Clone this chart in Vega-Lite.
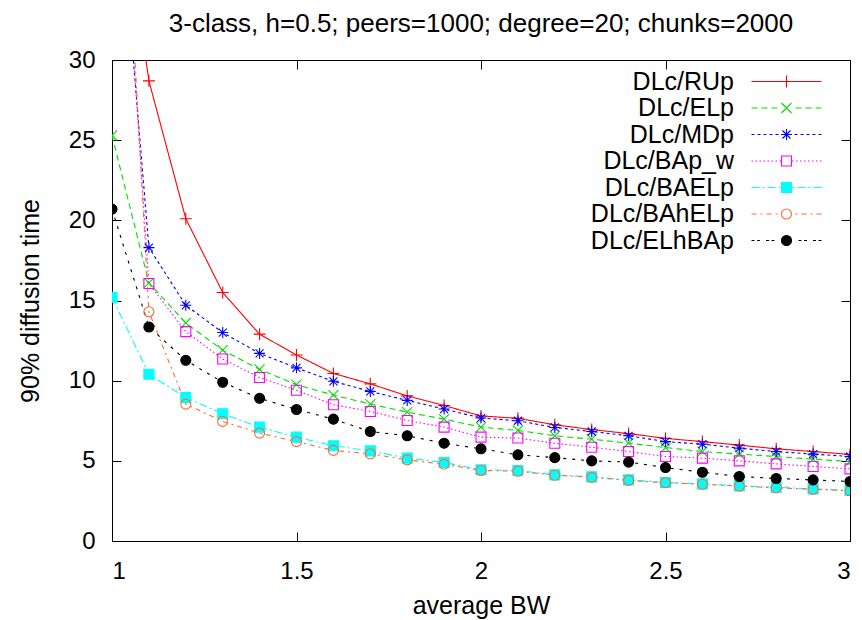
{
  "$schema": "https://vega.github.io/schema/vega-lite/v6.json",
  "width": 738,
  "height": 481,
  "autosize": {"type": "none"},
  "padding": {"left": 112, "top": 60, "right": 12, "bottom": 79},
  "title": {"text": "3-class, h=0.5; peers=1000; degree=20; chunks=2000", "fontSize": 26, "fontWeight": "normal", "font": "Liberation Sans", "color": "black", "offset": 11, "anchor": "middle"},
  "config": {
    "view": {"stroke": "black", "strokeWidth": 1},
    "font": "Liberation Sans",
    "axis": {"domain": false, "grid": false, "labelFont": "Liberation Sans", "labelFontSize": 24, "labelColor": "black", "tickColor": "black", "tickWidth": 1, "titleFont": "Liberation Sans", "titleFontSize": 25, "titleFontWeight": "normal", "titleColor": "black"},
    "legend": {"title": null, "orient": "none", "legendX": 662, "legendY": 9, "padding": 0, "rowPadding": 0.5, "labelFontSize": 25, "labelFont": "Liberation Sans", "labelColor": "black", "labelAlign": "right", "labelBaseline": "middle", "labelOffset": -65, "labelLimit": 400, "symbolSize": 100, "symbolStrokeWidth": 1.1, "symbolOpacity": 1}
  },
  "data": {"values": [
    {"bw":1.0,"series":"DLc/RUp","t":45},{"bw":1.1,"series":"DLc/RUp","t":28.7},{"bw":1.2,"series":"DLc/RUp","t":20.1},{"bw":1.3,"series":"DLc/RUp","t":15.5},{"bw":1.4,"series":"DLc/RUp","t":12.9},{"bw":1.5,"series":"DLc/RUp","t":11.6},{"bw":1.6,"series":"DLc/RUp","t":10.45},{"bw":1.7,"series":"DLc/RUp","t":9.8},{"bw":1.8,"series":"DLc/RUp","t":9.05},{"bw":1.9,"series":"DLc/RUp","t":8.45},{"bw":2.0,"series":"DLc/RUp","t":7.8},{"bw":2.1,"series":"DLc/RUp","t":7.65},{"bw":2.2,"series":"DLc/RUp","t":7.25},{"bw":2.3,"series":"DLc/RUp","t":6.95},{"bw":2.4,"series":"DLc/RUp","t":6.7},{"bw":2.5,"series":"DLc/RUp","t":6.4},{"bw":2.6,"series":"DLc/RUp","t":6.2},{"bw":2.7,"series":"DLc/RUp","t":5.98},{"bw":2.8,"series":"DLc/RUp","t":5.75},{"bw":2.9,"series":"DLc/RUp","t":5.58},{"bw":3.0,"series":"DLc/RUp","t":5.4},
    {"bw":1.0,"series":"DLc/ELp","t":25.3},{"bw":1.1,"series":"DLc/ELp","t":16.1},{"bw":1.2,"series":"DLc/ELp","t":13.6},{"bw":1.3,"series":"DLc/ELp","t":11.9},{"bw":1.4,"series":"DLc/ELp","t":10.7},{"bw":1.5,"series":"DLc/ELp","t":9.75},{"bw":1.6,"series":"DLc/ELp","t":9.1},{"bw":1.7,"series":"DLc/ELp","t":8.54},{"bw":1.8,"series":"DLc/ELp","t":8.04},{"bw":1.9,"series":"DLc/ELp","t":7.6},{"bw":2.0,"series":"DLc/ELp","t":7.1},{"bw":2.1,"series":"DLc/ELp","t":6.9},{"bw":2.2,"series":"DLc/ELp","t":6.56},{"bw":2.3,"series":"DLc/ELp","t":6.35},{"bw":2.4,"series":"DLc/ELp","t":6.1},{"bw":2.5,"series":"DLc/ELp","t":5.83},{"bw":2.6,"series":"DLc/ELp","t":5.58},{"bw":2.7,"series":"DLc/ELp","t":5.42},{"bw":2.8,"series":"DLc/ELp","t":5.27},{"bw":2.9,"series":"DLc/ELp","t":5.1},{"bw":3.0,"series":"DLc/ELp","t":4.96},
    {"bw":1.0,"series":"DLc/MDp","t":46},{"bw":1.1,"series":"DLc/MDp","t":18.3},{"bw":1.2,"series":"DLc/MDp","t":14.7},{"bw":1.3,"series":"DLc/MDp","t":13.0},{"bw":1.4,"series":"DLc/MDp","t":11.7},{"bw":1.5,"series":"DLc/MDp","t":10.8},{"bw":1.6,"series":"DLc/MDp","t":9.96},{"bw":1.7,"series":"DLc/MDp","t":9.33},{"bw":1.8,"series":"DLc/MDp","t":8.77},{"bw":1.9,"series":"DLc/MDp","t":8.23},{"bw":2.0,"series":"DLc/MDp","t":7.67},{"bw":2.1,"series":"DLc/MDp","t":7.5},{"bw":2.2,"series":"DLc/MDp","t":7.08},{"bw":2.3,"series":"DLc/MDp","t":6.83},{"bw":2.4,"series":"DLc/MDp","t":6.56},{"bw":2.5,"series":"DLc/MDp","t":6.2},{"bw":2.6,"series":"DLc/MDp","t":6.04},{"bw":2.7,"series":"DLc/MDp","t":5.79},{"bw":2.8,"series":"DLc/MDp","t":5.58},{"bw":2.9,"series":"DLc/MDp","t":5.42},{"bw":3.0,"series":"DLc/MDp","t":5.27},
    {"bw":1.0,"series":"DLc/BAp_w","t":50},{"bw":1.1,"series":"DLc/BAp_w","t":16.06},{"bw":1.2,"series":"DLc/BAp_w","t":13.06},{"bw":1.3,"series":"DLc/BAp_w","t":11.35},{"bw":1.4,"series":"DLc/BAp_w","t":10.2},{"bw":1.5,"series":"DLc/BAp_w","t":9.4},{"bw":1.6,"series":"DLc/BAp_w","t":8.5},{"bw":1.7,"series":"DLc/BAp_w","t":8.08},{"bw":1.8,"series":"DLc/BAp_w","t":7.52},{"bw":1.9,"series":"DLc/BAp_w","t":7.1},{"bw":2.0,"series":"DLc/BAp_w","t":6.48},{"bw":2.1,"series":"DLc/BAp_w","t":6.42},{"bw":2.2,"series":"DLc/BAp_w","t":6.1},{"bw":2.3,"series":"DLc/BAp_w","t":5.85},{"bw":2.4,"series":"DLc/BAp_w","t":5.58},{"bw":2.5,"series":"DLc/BAp_w","t":5.27},{"bw":2.6,"series":"DLc/BAp_w","t":5.17},{"bw":2.7,"series":"DLc/BAp_w","t":5.0},{"bw":2.8,"series":"DLc/BAp_w","t":4.81},{"bw":2.9,"series":"DLc/BAp_w","t":4.65},{"bw":3.0,"series":"DLc/BAp_w","t":4.5},
    {"bw":1.0,"series":"DLc/BAELp","t":15.2},{"bw":1.1,"series":"DLc/BAELp","t":10.4},{"bw":1.2,"series":"DLc/BAELp","t":8.95},{"bw":1.3,"series":"DLc/BAELp","t":7.94},{"bw":1.4,"series":"DLc/BAELp","t":7.1},{"bw":1.5,"series":"DLc/BAELp","t":6.48},{"bw":1.6,"series":"DLc/BAELp","t":5.94},{"bw":1.7,"series":"DLc/BAELp","t":5.62},{"bw":1.8,"series":"DLc/BAELp","t":5.17},{"bw":1.9,"series":"DLc/BAELp","t":4.9},{"bw":2.0,"series":"DLc/BAELp","t":4.44},{"bw":2.1,"series":"DLc/BAELp","t":4.4},{"bw":2.2,"series":"DLc/BAELp","t":4.125},{"bw":2.3,"series":"DLc/BAELp","t":4.0},{"bw":2.4,"series":"DLc/BAELp","t":3.81},{"bw":2.5,"series":"DLc/BAELp","t":3.65},{"bw":2.6,"series":"DLc/BAELp","t":3.56},{"bw":2.7,"series":"DLc/BAELp","t":3.44},{"bw":2.8,"series":"DLc/BAELp","t":3.35},{"bw":2.9,"series":"DLc/BAELp","t":3.25},{"bw":3.0,"series":"DLc/BAELp","t":3.15},
    {"bw":1.0,"series":"DLc/BAhELp","t":56},{"bw":1.1,"series":"DLc/BAhELp","t":14.3},{"bw":1.2,"series":"DLc/BAhELp","t":8.54},{"bw":1.3,"series":"DLc/BAhELp","t":7.46},{"bw":1.4,"series":"DLc/BAhELp","t":6.73},{"bw":1.5,"series":"DLc/BAhELp","t":6.2},{"bw":1.6,"series":"DLc/BAhELp","t":5.65},{"bw":1.7,"series":"DLc/BAhELp","t":5.44},{"bw":1.8,"series":"DLc/BAhELp","t":5.06},{"bw":1.9,"series":"DLc/BAhELp","t":4.79},{"bw":2.0,"series":"DLc/BAhELp","t":4.4},{"bw":2.1,"series":"DLc/BAhELp","t":4.35},{"bw":2.2,"series":"DLc/BAhELp","t":4.1},{"bw":2.3,"series":"DLc/BAhELp","t":3.97},{"bw":2.4,"series":"DLc/BAhELp","t":3.78},{"bw":2.5,"series":"DLc/BAhELp","t":3.63},{"bw":2.6,"series":"DLc/BAhELp","t":3.54},{"bw":2.7,"series":"DLc/BAhELp","t":3.42},{"bw":2.8,"series":"DLc/BAhELp","t":3.31},{"bw":2.9,"series":"DLc/BAhELp","t":3.23},{"bw":3.0,"series":"DLc/BAhELp","t":3.13},
    {"bw":1.0,"series":"DLc/ELhBAp","t":20.7},{"bw":1.1,"series":"DLc/ELhBAp","t":13.35},{"bw":1.2,"series":"DLc/ELhBAp","t":11.27},{"bw":1.3,"series":"DLc/ELhBAp","t":9.9},{"bw":1.4,"series":"DLc/ELhBAp","t":8.9},{"bw":1.5,"series":"DLc/ELhBAp","t":8.2},{"bw":1.6,"series":"DLc/ELhBAp","t":7.6},{"bw":1.7,"series":"DLc/ELhBAp","t":6.83},{"bw":1.8,"series":"DLc/ELhBAp","t":6.56},{"bw":1.9,"series":"DLc/ELhBAp","t":6.1},{"bw":2.0,"series":"DLc/ELhBAp","t":5.75},{"bw":2.1,"series":"DLc/ELhBAp","t":5.375},{"bw":2.2,"series":"DLc/ELhBAp","t":5.2},{"bw":2.3,"series":"DLc/ELhBAp","t":5.0},{"bw":2.4,"series":"DLc/ELhBAp","t":4.92},{"bw":2.5,"series":"DLc/ELhBAp","t":4.58},{"bw":2.6,"series":"DLc/ELhBAp","t":4.29},{"bw":2.7,"series":"DLc/ELhBAp","t":4.02},{"bw":2.8,"series":"DLc/ELhBAp","t":3.9},{"bw":2.9,"series":"DLc/ELhBAp","t":3.81},{"bw":3.0,"series":"DLc/ELhBAp","t":3.71}
  ]},
  "resolve": {
    "axis": {"x": "independent", "y": "independent"},
    "scale": {"shape": "independent"},
    "legend": {"color": "independent", "fill": "independent", "shape": "independent", "strokeDash": "independent"}
  },
  "layer": [
    {
      "mark": {"type": "line", "clip": true, "strokeWidth": 1.1},
      "encoding": {
        "x": {"field": "bw", "type": "quantitative", "scale": {"domain": [1, 3], "nice": false, "zero": false, "padding": 0}, "axis": {"orient": "bottom", "values": [1, 1.5, 2, 2.5, 3], "format": "~g", "tickSize": -9, "labelPadding": 27, "title": "average BW", "titlePadding": 10}},
        "y": {"field": "t", "type": "quantitative", "scale": {"domain": [0, 30], "nice": false, "zero": false, "padding": 0}, "axis": {"orient": "left", "values": [0, 5, 10, 15, 20, 25, 30], "tickSize": -9, "labelPadding": 26, "title": "90% diffusion time", "titlePadding": 25}},
        "color": {"field": "series", "type": "nominal", "legend": null, "scale": {"domain": ["DLc/RUp", "DLc/ELp", "DLc/MDp", "DLc/BAp_w", "DLc/BAELp", "DLc/BAhELp", "DLc/ELhBAp"], "range": ["#ff0000", "#00dd00", "#0000ff", "#ff00ff", "#00ffff", "#ff6a30", "#000000"]}},
        "strokeDash": {"field": "series", "type": "nominal", "legend": null, "scale": {"domain": ["DLc/RUp", "DLc/ELp", "DLc/MDp", "DLc/BAp_w", "DLc/BAELp", "DLc/BAhELp", "DLc/ELhBAp"], "range": [[1, 0], [6, 4], [3, 3], [1.5, 2.5], [8, 3, 2, 3], [5, 4, 2, 4], [3, 6]]}}
      }
    },
    {
      "mark": {"type": "point", "clip": true, "strokeWidth": 1.1, "opacity": 1, "fillOpacity": 1, "size": 100},
      "encoding": {
        "x": {"field": "bw", "type": "quantitative", "scale": {"domain": [1, 3], "nice": false, "zero": false, "padding": 0}, "axis": {"orient": "top", "values": [1, 1.5, 2, 2.5, 3], "tickSize": -9, "labels": false, "title": null}},
        "y": {"field": "t", "type": "quantitative", "scale": {"domain": [0, 30], "nice": false, "zero": false, "padding": 0}, "axis": {"orient": "right", "values": [0, 5, 10, 15, 20, 25, 30], "tickSize": -9, "labels": false, "title": null}},
        "color": {"field": "series", "type": "nominal", "legend": null},
        "shape": {"field": "series", "type": "nominal", "legend": null, "scale": {"domain": ["DLc/RUp", "DLc/ELp", "DLc/MDp", "DLc/BAp_w", "DLc/BAELp", "DLc/BAhELp", "DLc/ELhBAp"], "range": ["M-1.2,0H1.2M0,-1.2V1.2", "M-1,-1L1,1M-1,1L1,-1", "M-1.1,0H1.1M0,-1.1V1.1M-0.8,-0.8L0.8,0.8M-0.8,0.8L0.8,-0.8", "M-1,-1H1V1H-1Z", "M-1,-1H1V1H-1Z", "M1,0A1,1,0,1,1,-1,0A1,1,0,1,1,1,0Z", "M1,0A1,1,0,1,1,-1,0A1,1,0,1,1,1,0Z"]}},
        "fill": {"field": "series", "type": "nominal", "legend": null, "scale": {"domain": ["DLc/RUp", "DLc/ELp", "DLc/MDp", "DLc/BAp_w", "DLc/BAELp", "DLc/BAhELp", "DLc/ELhBAp"], "range": ["transparent", "transparent", "transparent", "transparent", "#00ffff", "transparent", "#000000"]}}
      }
    },
    {
      "transform": [{"filter": "false"}],
      "mark": {"type": "point", "strokeWidth": 1.1, "opacity": 1, "fillOpacity": 1, "size": 100},
      "encoding": {
        "x": {"field": "bw", "type": "quantitative", "axis": null},
        "y": {"field": "t", "type": "quantitative", "axis": null},
        "color": {"field": "series", "type": "nominal", "legend": {}},
        "fill": {"field": "series", "type": "nominal", "legend": {}},
        "shape": {"field": "series", "type": "nominal", "legend": {}, "scale": {"domain": ["DLc/RUp", "DLc/ELp", "DLc/MDp", "DLc/BAp_w", "DLc/BAELp", "DLc/BAhELp", "DLc/ELhBAp"], "range": [
          "M-7,0H7M0,-1.2V1.2",
          "M-7,0H-5.8M-5,0H-3.8M-3,0H-1.8M1.8,0H3M3.8,0H5M5.8,0H7M-1,-1L1,1M-1,1L1,-1",
          "M-7,0H-6.4M-5.8,0H-5.2M-4.6,0H-4M-3.4,0H-2.8M-2.2,0H-1.6M1.6,0H2.2M2.8,0H3.4M4,0H4.6M5.2,0H5.8M6.4,0H7M-1.1,0H1.1M0,-1.1V1.1M-0.8,-0.8L0.8,0.8M-0.8,0.8L0.8,-0.8",
          "M-7,0H-6.7M-6.2,0H-5.9M-5.4,0H-5.1M-4.6,0H-4.3M-3.8,0H-3.5M-3,0H-2.7M-2.2,0H-1.9M-1.4,0H-1.1M1.1,0H1.4M1.9,0H2.2M2.7,0H3M3.5,0H3.8M4.3,0H4.6M5.1,0H5.4M5.9,0H6.2M6.7,0H7M-1,-1H1V1H-1Z",
          "M-7,0H-5.4M-4.8,0H-4.4M-3.8,0H-2.2M-1.6,0H-1.2M1.2,0H1.6M2.2,0H3.8M4.4,0H4.8M5.4,0H7M-1,-1H1V1H-1Z",
          "M-7,0H-6M-5.2,0H-4.8M-4,0H-3M-2.2,0H-1.8M1.8,0H2.2M3,0H4M4.8,0H5.2M6,0H7M1,0A1,1,0,1,1,-1,0A1,1,0,1,1,1,0Z",
          "M-7,0H-6.4M-5.9,0H-5.3M-4.1,0H-3.5M-3,0H-2.4M2.4,0H3M3.5,0H4.1M5.3,0H5.9M6.4,0H7M1,0A1,1,0,1,1,-1,0A1,1,0,1,1,1,0Z"
        ]}}
      }
    }
  ]
}
